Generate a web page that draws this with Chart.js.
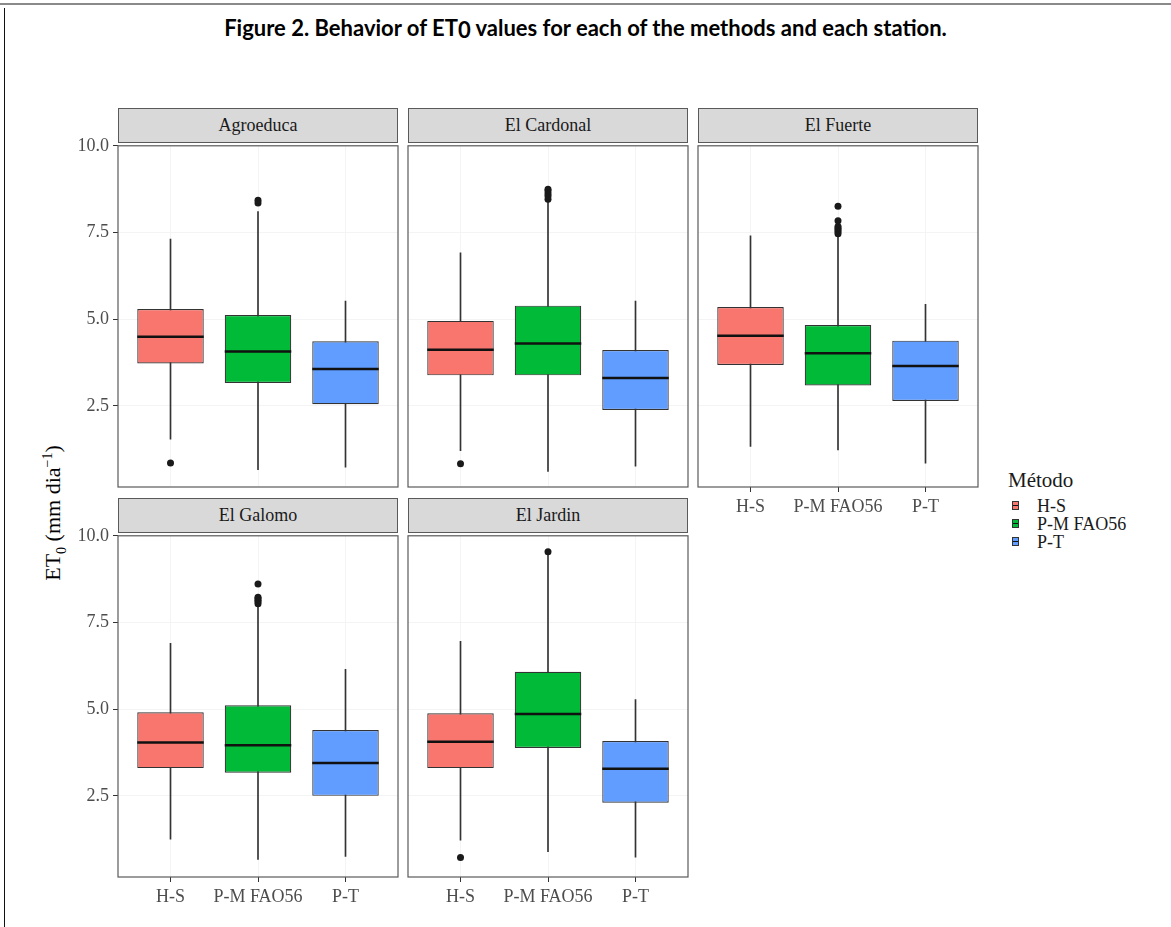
<!DOCTYPE html>
<html>
<head>
<meta charset="utf-8">
<script src="https://cdn.jsdelivr.net/npm/chart.js@4.4.1/dist/chart.umd.min.js"></script>
<style>
    body { margin: 0; width: 1171px; height: 927px; background: #fff; position: relative; overflow: hidden; font-family: "Liberation Serif", serif; }
    #topline { position: absolute; left: 0; top: 3px; width: 1171px; height: 2px; background: #8a8a8a; }
    #leftline { position: absolute; left: 4px; top: 8px; width: 1px; height: 919px; background: #111; }
    #title { position: absolute; left: 0; top: 14px; width: 1171px; text-align: center; font: bold 22px Lato, "Open Sans", sans-serif; color: #000; }
    #title .lo { position: relative; top: 2px; }
    .strip { position: absolute; box-sizing: border-box; height: 35px; background: #d9d9d9; border: 1px solid #5a5a5a;
        font-size: 18px; color: #1a1a1a; text-align: center; line-height: 33px; }
    canvas { position: absolute; }
    #ytitle { position: absolute; left: 55px; top: 513px; width: 0; height: 0; }
    #ytitle span { position: absolute; white-space: nowrap; font-size: 22px; color: #000; transform: translate(-50%, -50%) rotate(-90deg); }
    #ytitle sub { font-size: 14px; }
    #ytitle sup { font-size: 14px; }
    #legend { position: absolute; left: 1008px; top: 468px; color: #1a1a1a; }
    #legend .head { font-size: 21px; margin-bottom: 4px; }
    #legend .row { font-size: 18px; line-height: 18px; height: 18px; position: relative; padding-left: 29px; }
    #legend .key { position: absolute; left: 4px; top: 4px; width: 7px; height: 9px; border: 1px solid #333; box-sizing: border-box; }
    #legend .key::after { content: ""; position: absolute; left: 0; right: 0; top: 3px; height: 1px; background: #111; }
</style>
</head>
<body>
<div id="topline"></div>
<div id="leftline"></div>
<div id="title">Figure 2. Behavior of ET<span class="lo">0</span> values for each of the methods and each station.</div>
<div id="ytitle"><span>ET<sub>0</sub> (mm dia<sup>−1</sup>)</span></div>
<div id="legend"><div class="head">Método</div></div>
<div id="panels"></div>

<script>
// Data (ET0, mm/day)
const stations = ['Agroeduca', 'El Cardonal', 'El Fuerte', 'El Galomo', 'El Jardin'];
const methods = ['H-S', 'P-M FAO56', 'P-T'];
const yTicks = [2.5, 5.0, 7.5, 10.0];

const whiskerLow = [
    [1.54, 0.66, 0.73],
    [1.21, 0.61, 0.76],
    [1.33, 1.23, 0.85],
    [1.25, 0.67, 0.75],
    [1.22, 0.89, 0.73],
];
const q1 = [
    [3.72, 3.16, 2.55],
    [3.38, 3.38, 2.38],
    [3.68, 3.09, 2.64],
    [3.30, 3.17, 2.50],
    [3.30, 3.88, 2.30],
];
const medians = [
    [4.49, 4.07, 3.56],
    [4.12, 4.30, 3.30],
    [4.52, 4.02, 3.65],
    [4.04, 3.96, 3.45],
    [4.06, 4.86, 3.28],
];
const q3 = [
    [5.29, 5.12, 4.36],
    [4.95, 5.39, 4.11],
    [5.35, 4.83, 4.38],
    [4.91, 5.11, 4.40],
    [4.88, 6.08, 4.08],
];
const whiskerHigh = [
    [7.31, 8.10, 5.52],
    [6.91, 8.40, 5.52],
    [7.40, 7.43, 5.43],
    [6.90, 8.00, 6.15],
    [6.96, 9.47, 5.28],
];
const outliers = [
    [[0.85], [8.35, 8.43], []],
    [[0.83], [8.46, 8.55, 8.62, 8.70, 8.75], []],
    [[], [7.46, 7.52, 7.57, 7.62, 7.67, 7.84, 8.26], []],
    [[], [8.04, 8.10, 8.14, 8.19, 8.23, 8.61], []],
    [[0.72], [9.54], []],
];

// Styling / layout
const fills = ['#F8766D', '#00BA38', '#619CFF'];
const Y_MIN = 0.16, Y_MAX = 10.0;
const PLOT_W = 280, PLOT_H = 344, AXIS_W = 60, AXIS_H = 35, PAD = 12;
const panelLayout = [
    { left: 118, top: 143, yAxis: true, xAxis: false },
    { left: 408, top: 143, yAxis: false, xAxis: false },
    { left: 698, top: 143, yAxis: false, xAxis: true },
    { left: 118, top: 533, yAxis: true, xAxis: true },
    { left: 408, top: 533, yAxis: false, xAxis: true },
];
const CLEAR = 'rgba(0,0,0,0)';

// Median line on each box
const medianPlugin = {
    id: 'medianLines',
    afterDatasetsDraw(chart) {
        const ds = chart.data.datasets[1];
        const meta = chart.getDatasetMeta(1);
        const yScale = chart.scales.y;
        const ctx = chart.ctx;
        ctx.save();
        ctx.strokeStyle = '#111';
        ctx.lineWidth = 2.5;
        meta.data.forEach((bar, j) => {
            const py = yScale.getPixelForValue(ds.medians[j]);
            ctx.beginPath();
            ctx.moveTo(bar.x - bar.width / 2, py);
            ctx.lineTo(bar.x + bar.width / 2, py);
            ctx.stroke();
        });
        ctx.restore();
    },
};

// Panel border
const framePlugin = {
    id: 'panelFrame',
    afterDraw(chart) {
        const a = chart.chartArea;
        const ctx = chart.ctx;
        ctx.save();
        ctx.strokeStyle = '#5a5a5a';
        ctx.lineWidth = 1.2;
        ctx.strokeRect(a.left, a.top, a.right - a.left, a.bottom - a.top);
        ctx.restore();
    },
};

function makePanel(i) {
    const p = panelLayout[i];
    const holder = document.getElementById('panels');

    const strip = document.createElement('div');
    strip.className = 'strip';
    strip.style.left = p.left + 'px';
    strip.style.top = (p.top - 35) + 'px';
    strip.style.width = PLOT_W + 'px';
    strip.textContent = stations[i];
    holder.appendChild(strip);

    const canvas = document.createElement('canvas');
    canvas.width = AXIS_W + PLOT_W + PAD;
    canvas.height = PAD + PLOT_H + AXIS_H;
    canvas.style.left = (p.left - AXIS_W) + 'px';
    canvas.style.top = (p.top - PAD) + 'px';
    holder.appendChild(canvas);

    const points = [];
    outliers[i].forEach((vals, j) => vals.forEach((v) => points.push({ x: j, y: v })));

    new Chart(canvas.getContext('2d'), {
        type: 'bar',
        data: {
            datasets: [
                {
                    label: 'whisker',
                    data: methods.map((m, j) => ({ x: j, y: [whiskerLow[i][j], whiskerHigh[i][j]] })),
                    backgroundColor: '#333',
                    barThickness: 1,
                    grouped: false,
                    order: 3,
                },
                {
                    label: 'box',
                    data: methods.map((m, j) => ({ x: j, y: [q1[i][j], q3[i][j]] })),
                    medians: medians[i],
                    backgroundColor: fills,
                    borderColor: '#333',
                    borderWidth: 1.2,
                    borderSkipped: false,
                    barPercentage: 0.76,
                    categoryPercentage: 1,
                    grouped: false,
                    order: 2,
                },
                {
                    type: 'scatter',
                    label: 'outliers',
                    data: points,
                    pointRadius: 3.5,
                    pointBackgroundColor: '#1a1a1a',
                    pointBorderWidth: 0,
                    order: 1,
                },
            ],
        },
        options: {
            responsive: false,
            animation: false,
            devicePixelRatio: 1,
            layout: { padding: { top: PAD, right: PAD, left: 0, bottom: 0 } },
            plugins: { legend: { display: false }, tooltip: { enabled: false } },
            scales: {
                x: {
                    type: 'linear',
                    min: -0.6,
                    max: 2.6,
                    offset: false,
                    afterBuildTicks: (scale) => { scale.ticks = methods.map((m, j) => ({ value: j })); },
                    afterFit: (scale) => { scale.height = AXIS_H; },
                    border: { display: false },
                    grid: { offset: false, color: '#f4f4f4', tickLength: 5, tickColor: p.xAxis ? '#333' : CLEAR },
                    ticks: {
                        callback: (v) => methods[v],
                        color: p.xAxis ? '#4d4d4d' : CLEAR,
                        font: { family: 'Liberation Serif', size: 18 },
                        padding: 4,
                        maxRotation: 0,
                        autoSkip: false,
                    },
                },
                y: {
                    min: Y_MIN,
                    max: Y_MAX,
                    afterBuildTicks: (scale) => { scale.ticks = yTicks.map((v) => ({ value: v })); },
                    afterFit: (scale) => { scale.width = AXIS_W; },
                    border: { display: false },
                    grid: { color: '#f4f4f4', tickLength: 5, tickColor: p.yAxis ? '#333' : CLEAR },
                    ticks: {
                        callback: (v) => v.toFixed(1),
                        color: p.yAxis ? '#4d4d4d' : CLEAR,
                        font: { family: 'Liberation Serif', size: 18 },
                        padding: 4,
                    },
                },
            },
        },
        plugins: [medianPlugin, framePlugin],
    });
}

function buildLegend() {
    const legend = document.getElementById('legend');
    methods.forEach((m, j) => {
        const row = document.createElement('div');
        row.className = 'row';
        const key = document.createElement('span');
        key.className = 'key';
        key.style.background = fills[j];
        row.appendChild(key);
        row.appendChild(document.createTextNode(m));
        legend.appendChild(row);
    });
}

stations.forEach((s, i) => makePanel(i));
buildLegend();
</script>
</body>
</html>
